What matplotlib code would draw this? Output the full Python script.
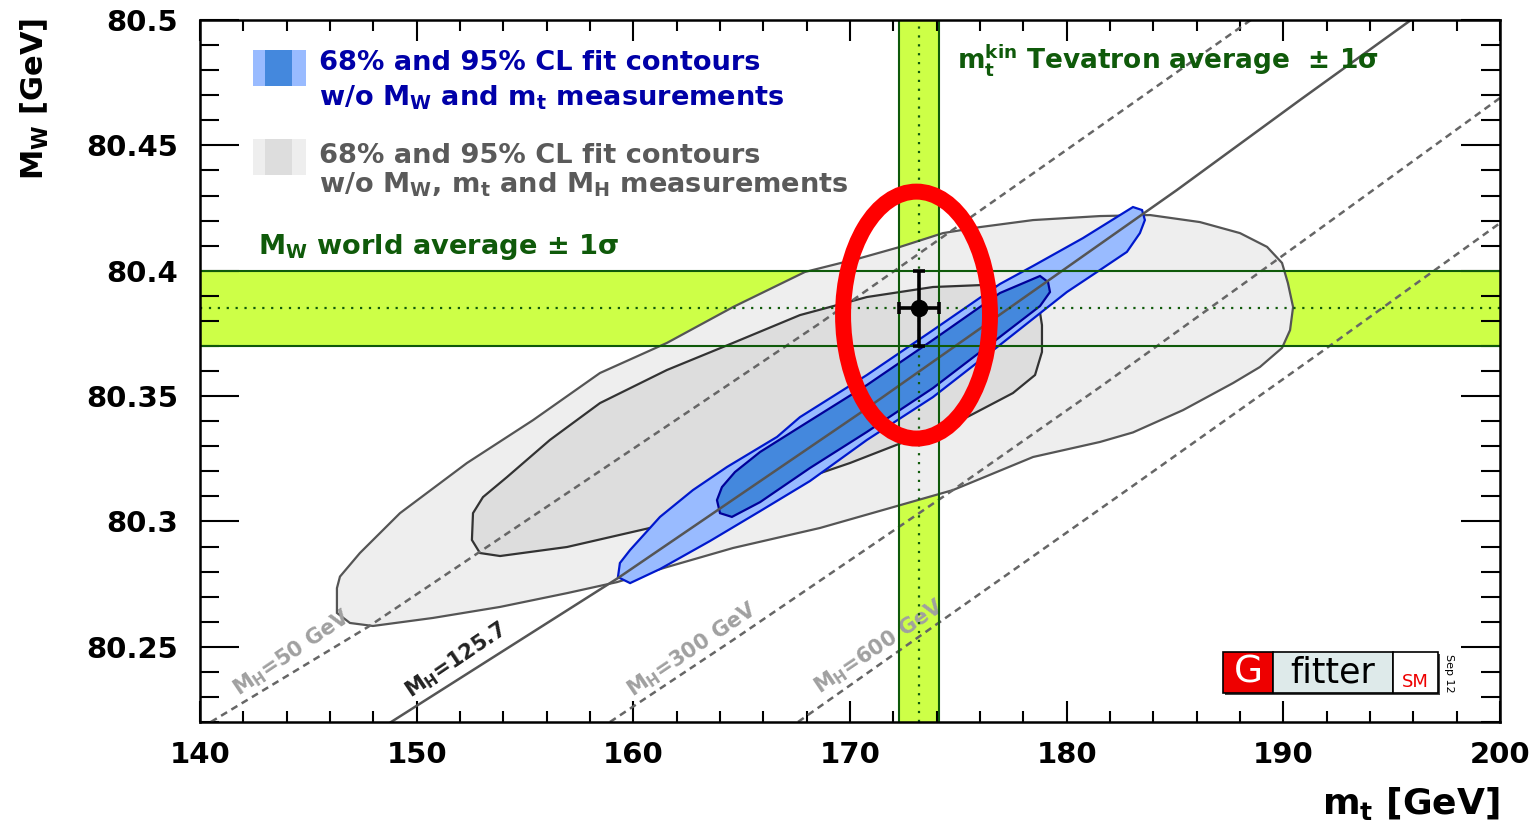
import matplotlib
matplotlib.use('Agg')
from matplotlib import patches as pat
from matplotlib import pyplot as plt
from matplotlib.ticker import MultipleLocator

plt.rcParams['font.family'] = ['DejaVu Sans']
plt.rcParams['mathtext.fontset'] = 'dejavusans'

# world average M_W and Tevatron m_t
mw_avg, mw_err = 80.385, 0.015
mt_avg, mt_err = 173.18, 0.94

# fit contours, outlines (mt [GeV], MW [GeV])
grey95_mt = [146.32, 146.46, 147.38, 149.23, 152.32, 155.37, 158.46, 161.55, 164.60, 167.92,
             170.46, 172.31, 174.29, 176.00, 178.45, 181.54, 183.85, 186.15, 188.00, 189.25,
             189.94, 190.21, 190.45, 190.31, 189.94, 188.92, 187.68, 185.37, 183.06, 181.54,
             178.45, 174.75, 168.62, 164.60, 161.55, 159.25, 156.94, 153.85, 150.75, 147.98,
             146.92, 146.32]
grey95_mw = [80.2734, 80.2780, 80.2874, 80.3033, 80.3233, 80.3404, 80.3592, 80.3712, 80.3855, 80.3995,
             80.4050, 80.4095, 80.4150, 80.4174, 80.4202, 80.4218, 80.4222, 80.4194, 80.4150, 80.4095,
             80.4031, 80.3951, 80.3855, 80.3763, 80.3692, 80.3616, 80.3552, 80.3444, 80.3355, 80.3317,
             80.3257, 80.3125, 80.2974, 80.2894, 80.2818, 80.2758, 80.2714, 80.2659, 80.2615, 80.2583,
             80.2595, 80.2635]

grey68_mt = [152.55, 152.60, 153.06, 154.17, 156.15, 158.46, 161.55, 164.60, 167.69, 170.78,
             173.83, 176.14, 177.85, 178.68, 178.86, 178.86, 178.54, 177.52, 175.40, 173.09,
             170.00, 167.69, 164.23, 160.77, 156.94, 153.85, 152.92]
grey68_mw = [80.2926, 80.3033, 80.3097, 80.3177, 80.3325, 80.3472, 80.3604, 80.3712, 80.3823, 80.3895,
             80.3935, 80.3943, 80.3931, 80.3883, 80.3783, 80.3676, 80.3584, 80.3512, 80.3416, 80.3337,
             80.3233, 80.3165, 80.3065, 80.2974, 80.2898, 80.2862, 80.2874]

blue95_mt = [159.29, 159.85, 161.23, 163.54, 165.85, 168.15, 170.78, 173.83, 176.92, 180.01,
             181.54, 182.78, 183.38, 183.61, 183.48, 183.06, 180.75, 178.45, 176.92, 173.83,
             170.78, 167.69, 166.63, 164.32, 162.75, 161.23, 159.85, 159.38]
blue95_mw = [80.2778, 80.2754, 80.2810, 80.2922, 80.3041, 80.3161, 80.3325, 80.3496, 80.3704, 80.3915,
             80.4003, 80.4075, 80.4150, 80.4202, 80.4242, 80.4254, 80.4130, 80.4019, 80.3947, 80.3763,
             80.3584, 80.3416, 80.3337, 80.3217, 80.3125, 80.3018, 80.2886, 80.2834]

blue68_mt = [163.86, 164.00, 164.55, 165.85, 168.15, 170.78, 173.83, 176.92, 178.77, 179.23,
             179.14, 178.77, 176.92, 173.83, 170.78, 167.69, 165.85, 164.69, 164.09]
blue68_mw = [80.3085, 80.3033, 80.3018, 80.3077, 80.3213, 80.3357, 80.3532, 80.3736, 80.3859, 80.3915,
             80.3955, 80.3979, 80.3911, 80.3724, 80.3544, 80.3377, 80.3277, 80.3197, 80.3137]

# SM prediction lines for fixed M_H
mh50_mt = [140.50, 147.75, 168.62, 180.11, 188.50]
mh50_mw = [80.2200, 80.2579, 80.3791, 80.4489, 80.5000]
mh126_mt = [148.82, 159.29, 170.46, 185.09, 190.77, 195.89]
mh126_mw = [80.2200, 80.2774, 80.3432, 80.4322, 80.4681, 80.5000]
mh300_mt = [158.92, 164.60, 174.75, 181.54, 190.77, 200.00]
mh300_mw = [80.2200, 80.2527, 80.3125, 80.3536, 80.4110, 80.4689]
mh600_mt = [167.60, 182.78, 191.69, 200.00]
mh600_mw = [80.2200, 80.3125, 80.3672, 80.4190]

mh_labels = ['M$_\\mathbf{H}$=50 GeV', 'M$_\\mathbf{H}$=125.7', 'M$_\\mathbf{H}$=300 GeV', 'M$_\\mathbf{H}$=600 GeV']
mh_label_mt = [144.25, 151.82, 162.71, 171.34]
mh_label_mw = [80.2475, 80.2447, 80.2487, 80.2499]

xticks = [140, 150, 160, 170, 180, 190, 200]
xlabels = ['140', '150', '160', '170', '180', '190', '200']
yticks = [80.25, 80.3, 80.35, 80.4, 80.45, 80.5]
ylabels = ['80.25', '80.3', '80.35', '80.4', '80.45', '80.5']

# red ring drawn on top of the plot
ring_center = (173.07, 80.3823)
ring_w, ring_h = 6.78, 0.0985

band_col = '#cdff47'
green = '#0f5a0a'

fig = plt.figure(figsize=(15.36, 8.25), dpi=100)
ax = fig.add_axes([200/1536, 1 - 722/825, 1300/1536, 702/825])
ax.set_xlim(140, 200)
ax.set_ylim(80.22, 80.5)

# bands
ax.axhspan(mw_avg - mw_err, mw_avg + mw_err, color=band_col, lw=0, zorder=1)
ax.axvspan(mt_avg - mt_err, mt_avg + mt_err, color=band_col, lw=0, zorder=1)

# contours
ax.fill(grey95_mt, grey95_mw, fc='#eeeeee', ec='#555555', lw=1.6, zorder=2)
ax.fill(grey68_mt, grey68_mw, fc='#dddddd', ec='#333333', lw=1.6, zorder=3)
ax.fill(blue95_mt, blue95_mw, fc='#99bbff', ec='#0018cc', lw=1.6, zorder=4)
ax.fill(blue68_mt, blue68_mw, fc='#4488dd', ec='#000099', lw=1.6, zorder=5)

# M_H lines
ax.plot(mh50_mt, mh50_mw, color='#666666', lw=1.8, dashes=(2.8, 2.0), zorder=6)
ax.plot(mh300_mt, mh300_mw, color='#666666', lw=1.8, dashes=(2.8, 2.0), zorder=6)
ax.plot(mh600_mt, mh600_mw, color='#666666', lw=1.8, dashes=(2.8, 2.0), zorder=6)
ax.plot(mh126_mt, mh126_mw, color='#555555', lw=1.8, zorder=6)

mh_cols = ['#a0a0a0', '#222222', '#a0a0a0', '#a0a0a0']
for lab, x, y, c in zip(mh_labels, mh_label_mt, mh_label_mw, mh_cols):
    ax.text(x, y, lab, rotation=34, rotation_mode='anchor', ha='center', va='center',
            fontsize=15, fontweight='bold', color=c, zorder=6)

# band edges and central values
for v in (mw_avg - mw_err, mw_avg + mw_err):
    ax.axhline(v, color=green, lw=1.5, zorder=7)
for v in (mt_avg - mt_err, mt_avg + mt_err):
    ax.axvline(v, color=green, lw=1.5, zorder=7)
ax.axhline(mw_avg, color=green, lw=1.6, ls=(0, (1, 3)), zorder=7)
ax.axvline(mt_avg, color=green, lw=1.6, ls=(0, (1, 3)), zorder=7)

ax.errorbar([mt_avg], [mw_avg], xerr=[mt_err], yerr=[mw_err], fmt='o', color='black',
            ms=11.5, elinewidth=2.6, capsize=4, capthick=2.6, zorder=8)

ax.add_patch(pat.Ellipse(ring_center, ring_w, ring_h, fill=False, ec='#ff0000', lw=11.5, zorder=9))

# legend block
tA = ax.transAxes
ax.add_patch(pat.Rectangle((0.0408, 0.906), 0.0407, 0.0513, transform=tA, fc='#99bbff', lw=0, zorder=10))
ax.add_patch(pat.Rectangle((0.05, 0.906), 0.0208, 0.0513, transform=tA, fc='#4488dd', lw=0, zorder=10))
ax.add_patch(pat.Rectangle((0.0408, 0.7792), 0.0407, 0.0513, transform=tA, fc='#eeeeee', lw=0, zorder=10))
ax.add_patch(pat.Rectangle((0.05, 0.7792), 0.0208, 0.0513, transform=tA, fc='#dddddd', lw=0, zorder=10))

txt = dict(transform=tA, fontsize=19.6, fontweight='bold', va='baseline', ha='left', zorder=10)
ax.text(0.0915, 0.9288, '68% and 95% CL fit contours', color='#0000a8', **txt)
ax.text(0.0915, 0.8789, 'w/o M$_\\mathbf{W}$ and m$_\\mathbf{t}$ measurements', color='#0000a8', **txt)
ax.text(0.0915, 0.7963, '68% and 95% CL fit contours', color='#5a5a5a', **txt)
ax.text(0.0915, 0.7536, 'w/o M$_\\mathbf{W}$, m$_\\mathbf{t}$ and M$_\\mathbf{H}$ measurements', color='#5a5a5a', **txt)
ax.text(0.0446, 0.6667, 'M$_\\mathbf{W}$ world average \u00b1 1\u03c3', color=green, **txt)
txt['fontsize'] = 19
ax.text(0.582, 0.9316, 'm$_\\mathbf{t}^\\mathbf{kin}$ Tevatron average  \u00b1 1\u03c3', color=green, **txt)

# Gfitter logo
ax.add_patch(pat.Rectangle((0.7885, 0.0385), 0.1654, 0.0584, transform=tA, fc='#444444', lw=0, zorder=10))
ax.add_patch(pat.Rectangle((0.7869, 0.0413), 0.0385, 0.0584, transform=tA, fc='#ee0000', ec='black', lw=1.2, zorder=11))
ax.add_patch(pat.Rectangle((0.8254, 0.0413), 0.0923, 0.0584, transform=tA, fc='#deeaea', ec='black', lw=1.2, zorder=11))
ax.add_patch(pat.Rectangle((0.9177, 0.0413), 0.0346, 0.0584, transform=tA, fc='white', ec='black', lw=1.2, zorder=11))
ax.text(0.8062, 0.0705, 'G', transform=tA, color='white', fontsize=27, ha='center', va='center', zorder=12)
ax.text(0.8715, 0.0705, 'fitter', transform=tA, color='black', fontsize=25, ha='center', va='center', zorder=12)
ax.text(0.935, 0.0575, 'SM', transform=tA, color='#ee0000', fontsize=13, ha='center', va='center', zorder=12)
ax.text(0.9604, 0.0695, 'Sep 12', transform=tA, color='black', fontsize=8, rotation=-90,
        ha='center', va='center', zorder=12)

# axes styling
ax.set_xticks(xticks)
ax.set_xticklabels(xlabels)
ax.set_yticks(yticks)
ax.set_yticklabels(ylabels)
ax.xaxis.set_minor_locator(MultipleLocator(2))
ax.yaxis.set_minor_locator(MultipleLocator(0.01))
ax.tick_params(axis='both', which='both', direction='in', top=True, right=True, width=1.5, colors='black')
ax.tick_params(axis='x', which='major', length=15, pad=14, labelsize=21)
ax.tick_params(axis='x', which='minor', length=8)
ax.tick_params(axis='y', which='major', length=28, pad=16, labelsize=21)
ax.tick_params(axis='y', which='minor', length=14)
for lab in ax.get_xticklabels() + ax.get_yticklabels():
    lab.set_fontweight('bold')
for sp in ax.spines.values():
    sp.set_linewidth(1.8)
    sp.set_zorder(20)

fig.text(1500/1536, 1 - 803/825, 'm$_\\mathbf{t}$ [GeV]', ha='right', va='center',
         fontsize=26, fontweight='bold')
fig.text(35/1536, 1 - 18/825, 'M$_\\mathbf{W}$ [GeV]', ha='center', va='top', rotation=90,
         fontsize=22, fontweight='bold')

fig.savefig('out.png', dpi=100)
